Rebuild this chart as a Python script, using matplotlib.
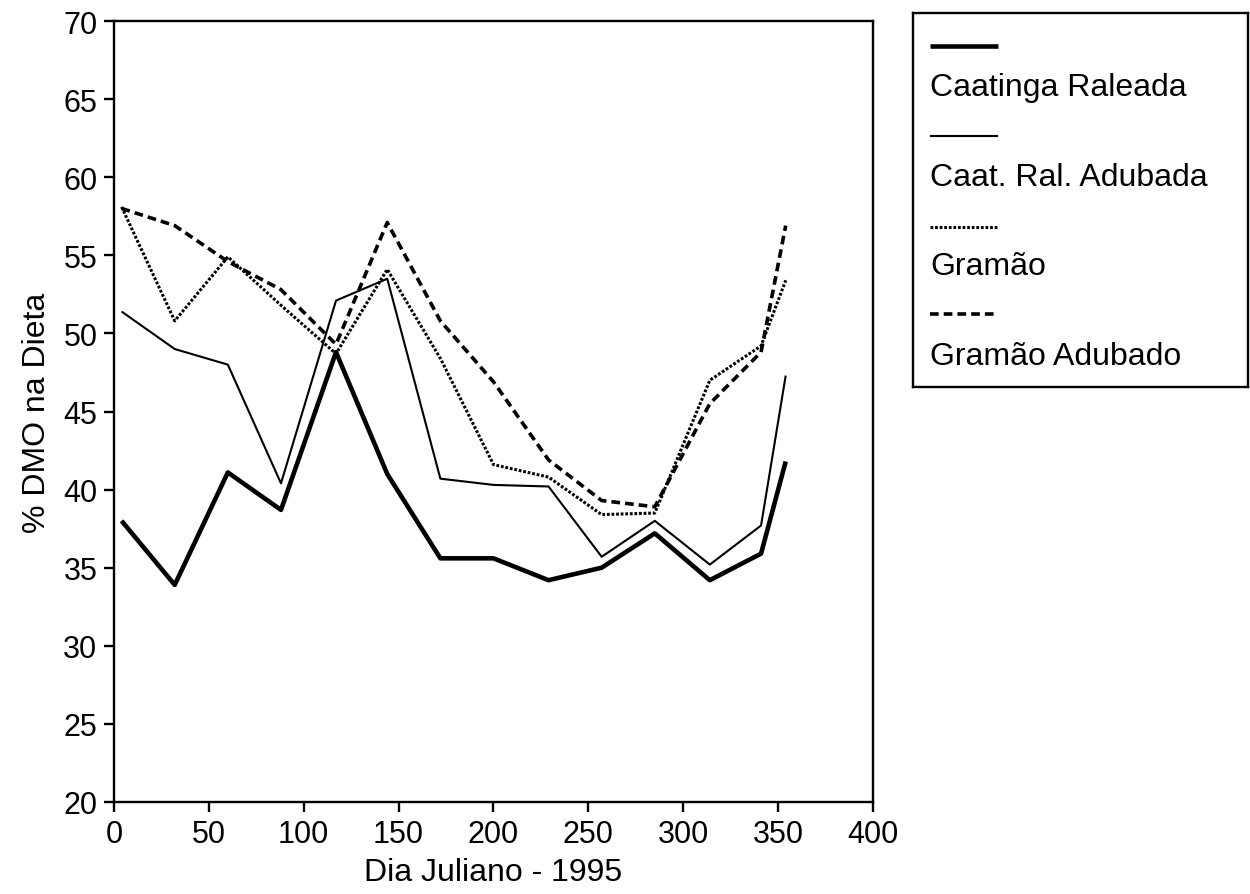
import numpy as np
import matplotlib
matplotlib.use("Agg")
import matplotlib.pyplot as plt

plt.rcParams['font.family'] = ['Liberation Sans', 'DejaVu Sans']

# dia juliano (1995) and % DMO for each treatment
dias = [4, 32, 60, 88, 117, 144, 172, 200, 229, 257, 285, 314, 341, 354]
caatinga_raleada = [38.0, 33.9, 41.1, 38.7, 48.8, 41.0, 35.6, 35.6, 34.2, 35.0, 37.2, 34.2, 35.9, 41.8]
caat_ral_adubada = [51.4, 49.0, 48.0, 40.4, 52.1, 53.5, 40.7, 40.3, 40.2, 35.7, 38.0, 35.2, 37.7, 47.3]
gramao = [58.1, 50.8, 54.9, 51.8, 48.7, 54.1, 48.4, 41.6, 40.8, 38.4, 38.5, 47.0, 49.2, 53.4]
gramao_adubado = [58.0, 56.9, 54.6, 52.8, 49.3, 57.1, 50.8, 46.9, 41.9, 39.3, 38.9, 45.5, 48.8, 56.9]

labels = ['Caatinga Raleada', 'Caat. Ral. Adubada', 'Gramão', 'Gramão Adubado']
series = [caatinga_raleada, caat_ral_adubada, gramao, gramao_adubado]
styles = [
    dict(lw=3.3, ls='-'),
    dict(lw=1.5, ls='-'),
    dict(lw=2.2, ls=(0, (0.9, 0.6))),
    dict(lw=2.6, ls=(0, (2.4, 1.4))),
]

fig = plt.figure(figsize=(12.5, 8.95), dpi=100)
ax = fig.add_axes([114 / 1250, 1 - 803 / 895, 759 / 1250, 781 / 895])

for vals, st in zip(series, styles):
    ax.plot(dias, vals, color='black', solid_capstyle='butt',
            dash_capstyle='butt', **st)

ax.set_xlim(0, 400)
ax.set_ylim(20, 70)
ax.set_xticks(np.arange(0, 401, 50))
ax.set_yticks(np.arange(20, 71, 5))
for s in ax.spines.values():
    s.set_linewidth(1.7)
ax.tick_params(axis='both', direction='out', length=7, width=1.7,
               labelsize=22, pad=5)
ax.set_xlabel('Dia Juliano - 1995', fontsize=23, labelpad=6)
ax.set_ylabel('% DMO na Dieta', fontsize=23, labelpad=8)

# legend box: sample line on one row, label below it
lax = fig.add_axes([913 / 1250, 1 - 388 / 895, 335 / 1250, 374 / 895])
lax.set_xlim(0, 1)
lax.set_ylim(0, 1)
lax.set_xticks([])
lax.set_yticks([])
for s in lax.spines.values():
    s.set_linewidth(1.7)

line_y = [0.912, 0.671, 0.428, 0.195]
text_y = [0.802, 0.561, 0.324, 0.083]
for lab, st, ly, ty in zip(labels, styles, line_y, text_y):
    lax.plot([0.051, 0.254], [ly, ly], color='black', solid_capstyle='butt',
             dash_capstyle='butt', **st)
    lax.text(0.051, ty, lab, fontsize=23, va='center', ha='left')

fig.savefig('out.png', dpi=100)
